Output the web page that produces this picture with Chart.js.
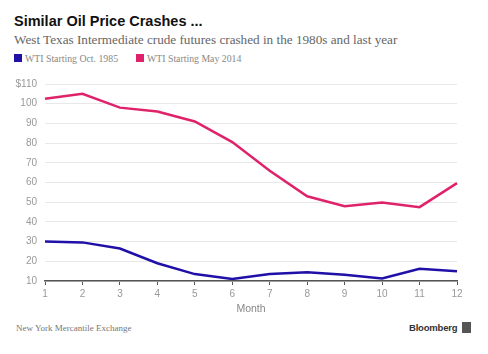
<!DOCTYPE html>
<html>
<head>
<meta charset="utf-8">
<script src="https://cdn.jsdelivr.net/npm/chart.js@4"></script>
<style>
  body { margin: 0; width: 488px; height: 354px; background: #fff; position: relative; overflow: hidden; }
  .t { position: absolute; white-space: nowrap; }
  #title { left: 14px; top: 13px; font: bold 14.5px "Liberation Sans", Arial, sans-serif; color: #111; }
  #sub { left: 14px; top: 32px; font: 13.2px "Liberation Serif", serif; color: #666; }
  .lg { top: 53px; font: 9.8px "Liberation Serif", serif; color: #888; }
  .sw { position: absolute; top: 54px; width: 8px; height: 8px; }
  #src { left: 16px; top: 323px; font: 9px "Liberation Serif", serif; color: #777; }
  #brand { left: 409px; top: 322px; font: bold 9.5px "Liberation Sans", Arial, sans-serif; color: #333; letter-spacing: -0.2px; }
  #icon { position: absolute; left: 462px; top: 322px; width: 9px; height: 11px; background: #555; }
  #wrap { position: absolute; left: 0; top: 70px; width: 488px; height: 245px; }
</style>
</head>
<body>
<div class="t" id="title">Similar Oil Price Crashes ...</div>
<div class="t" id="sub">West Texas Intermediate crude futures crashed in the 1980s and last year</div>
<div class="sw" style="left:14px;background:#2010a8"></div>
<div class="t lg" style="left:25px">WTI Starting Oct. 1985</div>
<div class="sw" style="left:136px;background:#e0226a"></div>
<div class="t lg" style="left:147px">WTI Starting May 2014</div>
<div id="wrap"><canvas id="chart"></canvas></div>
<div class="t" id="src">New York Mercantile Exchange</div>
<div class="t" id="brand">Bloomberg</div>
<div id="icon"></div>
<script>
// months since start of each crash
const months = [1, 2, 3, 4, 5, 6, 7, 8, 9, 10, 11, 12];
const wti1985 = [30.1, 29.6, 26.5, 19, 13.5, 11, 13.5, 14.5, 13.2, 11.3, 16.2, 14.9];
const wti2014 = [102.5, 105, 98, 96, 91, 80.5, 66, 53, 48, 49.8, 47.5, 59.7];
const yTicks = [10, 20, 30, 40, 50, 60, 70, 80, 90, 100, 110];

const axisFont = { family: "Liberation Sans, Arial, sans-serif", size: 10 };

new Chart(document.getElementById("chart"), {
  type: "line",
  data: {
    labels: months,
    datasets: [
      { label: "WTI Starting Oct. 1985", data: wti1985, borderColor: "#2010a8", borderWidth: 2.5, pointRadius: 0, tension: 0 },
      { label: "WTI Starting May 2014", data: wti2014, borderColor: "#e0226a", borderWidth: 2.5, pointRadius: 0, tension: 0 }
    ]
  },
  options: {
    responsive: true,
    maintainAspectRatio: false,
    animation: false,
    layout: { padding: { top: 12, right: 31, left: 0, bottom: 0 } },
    plugins: { legend: { display: false }, tooltip: { enabled: false } },
    scales: {
      x: {
        offset: false,
        grid: { drawOnChartArea: false, drawTicks: true, tickLength: 4, color: "#555" },
        border: { color: "#555", width: 1.5 },
        ticks: { color: "#999", font: axisFont, padding: 3, maxRotation: 0 },
        title: { display: true, text: "Month", color: "#888", font: { family: "Liberation Sans, Arial, sans-serif", size: 10.5 }, padding: { top: 2, bottom: 0 } },
        afterFit: s => { s.height = 34; }
      },
      y: {
        min: 10,
        max: 110,
        afterBuildTicks: s => { s.ticks = yTicks.map(v => ({ value: v })); },
        grid: { color: "#e8e8e8", drawTicks: false },
        border: { display: false },
        ticks: {
          color: "#999", font: axisFont, padding: 8,
          callback: v => v === 110 ? "$110" : v
        },
        afterFit: s => { s.width = 45; }
      }
    }
  }
});
</script>
</body>
</html>
